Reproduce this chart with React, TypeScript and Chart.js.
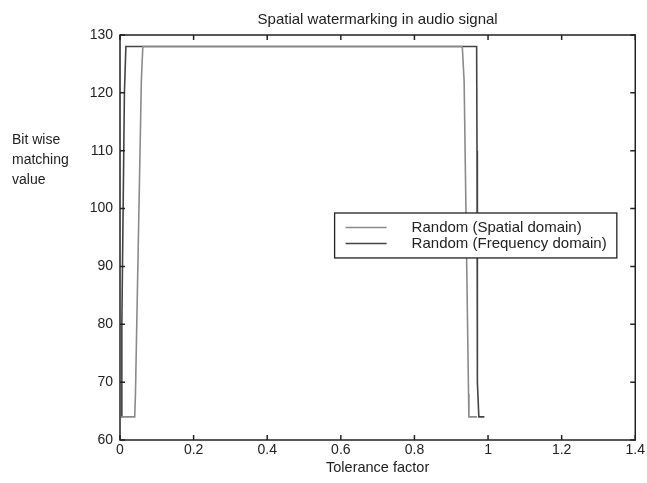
import React, { useEffect, useRef } from "react";
import { Chart, registerables } from "chart.js";

Chart.register(...registerables);

const titleText = "Spatial watermarking in audio signal";
const xAxisLabel = "Tolerance factor";
const yAxisLabelLines = ["Bit wise", "matching", "value"];
const seriesNames = ["Random (Spatial domain)", "Random (Frequency domain)"];

const xTickValues = [0, 0.2, 0.4, 0.6, 0.8, 1, 1.2, 1.4];
const yTickValues = [60, 70, 80, 90, 100, 110, 120, 130];

// Spatial domain (inner curve)
const spatialX = [0.003, 0.04, 0.042, 0.058, 0.062, 0.93, 0.935, 0.947, 0.948, 0.97];
const spatialY = [64, 64, 68, 122, 128, 128, 122, 68, 64, 64];

// Frequency domain (outer curve)
const freqX = [0.003, 0.005, 0.012, 0.016, 0.969, 0.97, 0.971, 0.975, 0.99];
const freqY = [64, 80, 120, 128, 128, 110, 70, 64, 64];

const FONT = "'Liberation Sans', Arial, sans-serif";
const TEXT = "#222";

function toPoints(xs: number[], ys: number[]) {
  return xs.map((x, i) => ({ x, y: ys[i] }));
}

const decorPlugin = {
  id: "decor",
  afterDraw(chart: any) {
    const { ctx, chartArea } = chart;
    const { left, right, top, bottom } = chartArea;
    const xs = chart.scales.x;
    const ys = chart.scales.y;
    ctx.save();
    // frame
    ctx.strokeStyle = "#222";
    ctx.lineWidth = 1.5;
    ctx.strokeRect(left, top, right - left, bottom - top);
    // ticks
    const tl = 5;
    ctx.beginPath();
    xTickValues.forEach((v) => {
      const p = xs.getPixelForValue(v);
      ctx.moveTo(p, bottom);
      ctx.lineTo(p, bottom - tl);
      ctx.moveTo(p, top);
      ctx.lineTo(p, top + tl);
    });
    yTickValues.forEach((v) => {
      const p = ys.getPixelForValue(v);
      ctx.moveTo(left, p);
      ctx.lineTo(left + tl, p);
      ctx.moveTo(right, p);
      ctx.lineTo(right - tl, p);
    });
    ctx.stroke();

    // title
    ctx.fillStyle = TEXT;
    ctx.font = `15px ${FONT}`;
    ctx.textAlign = "center";
    ctx.textBaseline = "middle";
    ctx.fillText(titleText, (left + right) / 2, top - 15);
    // x label
    ctx.font = `14.5px ${FONT}`;
    ctx.fillText(xAxisLabel, (left + right) / 2, bottom + 28);
    // y label
    ctx.font = `14px ${FONT}`;
    ctx.textAlign = "left";
    yAxisLabelLines.forEach((s, i) => {
      ctx.fillText(s, 12, top + 105 + i * 20);
    });

    // legend
    const w = right - left;
    const h = bottom - top;
    const bx = left + w * 0.4165;
    const bxr = left + w * 0.9642;
    const by = top + h * 0.4395;
    const byb = top + h * 0.5505;
    ctx.fillStyle = "#fff";
    ctx.fillRect(bx, by, bxr - bx, byb - by);
    ctx.strokeStyle = "#222";
    ctx.lineWidth = 1.3;
    ctx.strokeRect(bx, by, bxr - bx, byb - by);
    const datasets = chart.data.datasets;
    const rowH = 16;
    const midY = (by + byb) / 2;
    datasets.forEach((ds: any, i: number) => {
      const yy = midY - rowH / 2 + i * rowH;
      ctx.strokeStyle = ds.borderColor;
      ctx.lineWidth = 1.5;
      ctx.beginPath();
      ctx.moveTo(bx + 11, yy);
      ctx.lineTo(bx + 52, yy);
      ctx.stroke();
      ctx.fillStyle = TEXT;
      ctx.font = `15px ${FONT}`;
      ctx.textAlign = "left";
      ctx.textBaseline = "middle";
      ctx.fillText(ds.label, bx + 77, yy);
    });
    ctx.restore();
  },
};

export default function App() {
  const ref = useRef<HTMLCanvasElement | null>(null);
  useEffect(() => {
    if (!ref.current) return;
    const chart = new Chart(ref.current, {
      type: "scatter",
      data: {
        datasets: [
          {
            label: seriesNames[0],
            data: toPoints(spatialX, spatialY),
            showLine: true,
            borderColor: "#8a8a8a",
            borderWidth: 1.6,
            pointRadius: 0,
            tension: 0,
          },
          {
            label: seriesNames[1],
            data: toPoints(freqX, freqY),
            showLine: true,
            borderColor: "#444444",
            borderWidth: 1.6,
            pointRadius: 0,
            tension: 0,
          },
        ],
      },
      options: {
        responsive: false,
        animation: false,
        layout: { padding: { left: 0, right: 11, top: 35, bottom: 0 } },
        plugins: {
          legend: { display: false },
          title: { display: false },
          tooltip: { enabled: false },
        },
        scales: {
          x: {
            type: "linear",
            min: 0,
            max: 1.4,
            afterBuildTicks: (scale: any) => {
              scale.ticks = xTickValues.map((v) => ({ value: v }));
            },
            afterFit: (scale: any) => {
              scale.height = 43;
            },
            grid: { display: false, drawTicks: false },
            border: { display: false },
            ticks: {
              color: TEXT,
              font: { family: FONT, size: 14 },
              padding: 2,
              maxRotation: 0,
              autoSkip: false,
              callback: (v: any) => String(Number(Number(v).toFixed(1))),
            },
          },
          y: {
            type: "linear",
            min: 60,
            max: 130,
            afterBuildTicks: (scale: any) => {
              scale.ticks = yTickValues.map((v) => ({ value: v }));
            },
            afterFit: (scale: any) => {
              scale.width = 120;
            },
            grid: { display: false, drawTicks: false },
            border: { display: false },
            ticks: {
              color: TEXT,
              font: { family: FONT, size: 14 },
              padding: 7,
              autoSkip: false,
            },
          },
        },
      },
      plugins: [decorPlugin],
    });
    return () => chart.destroy();
  }, []);
  return (
    <div style={{ position: "fixed", left: 0, top: 0, width: 647, height: 483, background: "#fff" }}>
      <canvas ref={ref} width={647} height={483} style={{ display: "block" }} />
    </div>
  );
}
